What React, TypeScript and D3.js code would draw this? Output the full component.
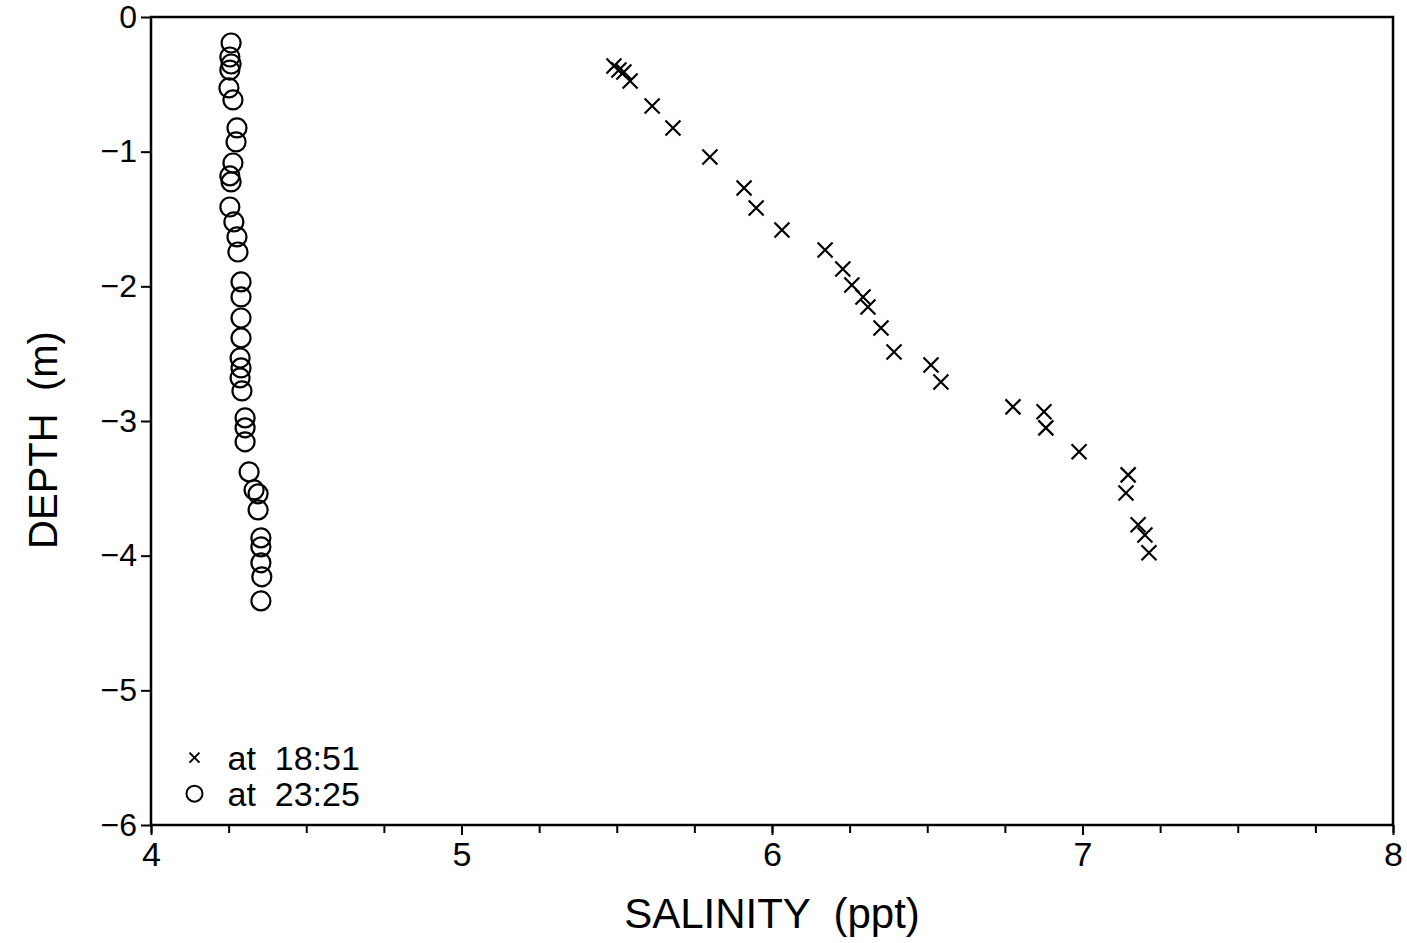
import * as React from 'react';
import { useEffect, useRef } from 'react';
import { scaleLinear, select, axisLeft, axisBottom, range } from 'd3';

// salinity (ppt) and depth (m) profile at 18:51
const salinity1851 = [5.491, 5.507, 5.523, 5.543, 5.614, 5.681, 5.800, 5.910, 5.949, 6.032, 6.171, 6.228, 6.257, 6.293,
    6.309, 6.351, 6.393, 6.512, 6.544, 6.776, 6.876, 6.882, 6.989, 7.147, 7.140, 7.179, 7.201, 7.214];
const depth1851 = [-0.364, -0.393, -0.408, -0.475, -0.661, -0.824, -1.039, -1.270, -1.418, -1.581, -1.730, -1.871, -1.990, -2.079,
    -2.153, -2.309, -2.487, -2.584, -2.710, -2.895, -2.932, -3.051, -3.229, -3.400, -3.534, -3.771, -3.846, -3.979];

// salinity (ppt) and depth (m) profile at 23:25
const salinity2325 = [4.258, 4.254, 4.258, 4.254, 4.251, 4.264, 4.277, 4.274, 4.264, 4.254, 4.258, 4.254, 4.267, 4.277,
    4.280, 4.290, 4.290, 4.290, 4.290, 4.287, 4.290, 4.287, 4.293, 4.303, 4.303, 4.303, 4.316, 4.332, 4.345, 4.345,
    4.354, 4.354, 4.354, 4.357, 4.354];
const depth2325 = [-0.193, -0.297, -0.349, -0.394, -0.527, -0.616, -0.824, -0.928, -1.084, -1.180, -1.225, -1.411, -1.522, -1.633,
    -1.745, -1.967, -2.079, -2.235, -2.383, -2.532, -2.606, -2.680, -2.777, -2.977, -3.051, -3.155, -3.378, -3.512, -3.541, -3.660,
    -3.868, -3.935, -4.053, -4.157, -4.336];

const xTicks = [4, 5, 6, 7, 8];
const yTicks = [0, -1, -2, -3, -4, -5, -6];
const legendLabels = ['at  18:51', 'at  23:25'];

const margin = { top: 17, right: 14, bottom: 118, left: 151 };
const W = 1407;
const H = 943;
const FONT = '"Liberation Sans", Arial, sans-serif';

export default function App() {
    const ref = useRef<SVGSVGElement>(null);

    useEffect(() => {
        const svg = select(ref.current);
        svg.selectAll('*').remove();
        const width = W - margin.left - margin.right;
        const height = H - margin.top - margin.bottom;

        const x = scaleLinear().domain([4, 8]).range([0, width]);
        const y = scaleLinear().domain([-6, 0]).range([height, 0]);

        const g = svg.append('g').attr('transform', `translate(${margin.left},${margin.top})`);

        // minor ticks every 0.25 on x
        const xMinor = g.append('g')
            .attr('transform', `translate(0,${height})`)
            .call(axisBottom(x).tickValues(range(4, 8.001, 0.25)).tickSize(8).tickFormat(() => ''));
        xMinor.select('.domain').remove();
        xMinor.selectAll('line').attr('stroke', '#000').attr('stroke-width', 2);

        const xAxis = g.append('g')
            .attr('transform', `translate(0,${height})`)
            .call(axisBottom(x).tickValues(xTicks).tickSize(10).tickPadding(7).tickFormat((d: any) => String(d)));
        xAxis.select('.domain').remove();
        xAxis.selectAll('line').attr('stroke', '#000').attr('stroke-width', 2);
        xAxis.selectAll('text').attr('font-family', FONT).attr('font-size', 34).attr('fill', '#000');

        const yAxis = g.append('g')
            .call(axisLeft(y).tickValues(yTicks).tickSize(10).tickPadding(4)
                .tickFormat((d: any) => (d < 0 ? '\u2212' + Math.abs(d) : String(d))));
        yAxis.select('.domain').remove();
        yAxis.selectAll('line').attr('stroke', '#000').attr('stroke-width', 2);
        yAxis.selectAll('text').attr('font-family', FONT).attr('font-size', 32).attr('fill', '#000');

        // frame
        g.append('rect')
            .attr('width', width)
            .attr('height', height)
            .attr('fill', 'none')
            .attr('stroke', '#000')
            .attr('stroke-width', 2.5);

        // 18:51 crosses
        const s = 7.5;
        g.append('g').selectAll('path')
            .data(salinity1851.map((v, i) => [v, depth1851[i]]))
            .join('path')
            .attr('d', (d) => {
                const cx = x(d[0]);
                const cy = y(d[1]);
                return `M${cx - s},${cy - s}L${cx + s},${cy + s}M${cx - s},${cy + s}L${cx + s},${cy - s}`;
            })
            .attr('stroke', '#000')
            .attr('stroke-width', 2.2)
            .attr('fill', 'none');

        // 23:25 circles
        g.append('g').selectAll('circle')
            .data(salinity2325.map((v, i) => [v, depth2325[i]]))
            .join('circle')
            .attr('cx', (d) => x(d[0]))
            .attr('cy', (d) => y(d[1]))
            .attr('r', 9.5)
            .attr('fill', 'none')
            .attr('stroke', '#000')
            .attr('stroke-width', 2.2);

        // legend
        const lg = g.append('g').attr('transform', `translate(${x(4.14)},${y(-5.5)})`);
        lg.append('path')
            .attr('d', 'M-5,-5L5,5M-5,5L5,-5')
            .attr('stroke', '#000')
            .attr('stroke-width', 2);
        lg.append('ellipse')
            .attr('cx', 0).attr('cy', 36).attr('rx', 8).attr('ry', 8)
            .attr('fill', 'none').attr('stroke', '#000').attr('stroke-width', 2);
        lg.selectAll('text.lbl')
            .data(legendLabels)
            .join('text')
            .attr('class', 'lbl')
            .attr('x', 33)
            .attr('y', (d, i) => 12 + i * 36)
            .style('white-space', 'pre')
            .attr('font-family', FONT)
            .attr('font-size', 34)
            .text((d) => d);

        // axis titles
        svg.append('text')
            .attr('x', margin.left + width / 2)
            .attr('y', 928)
            .attr('text-anchor', 'middle')
            .attr('font-family', FONT)
            .attr('font-size', 42)
            .style('white-space', 'pre')
            .text('SALINITY  (ppt)');

        svg.append('text')
            .attr('transform', `translate(57,${440}) rotate(-90)`)
            .attr('text-anchor', 'middle')
            .attr('font-family', FONT)
            .attr('font-size', 40)
            .style('white-space', 'pre')
            .text('DEPTH  (m)');
    }, []);

    return (
        <svg ref={ref} width={W} height={H} style={{ position: 'absolute', left: 0, top: 0, background: '#fff' }} />
    );
}
